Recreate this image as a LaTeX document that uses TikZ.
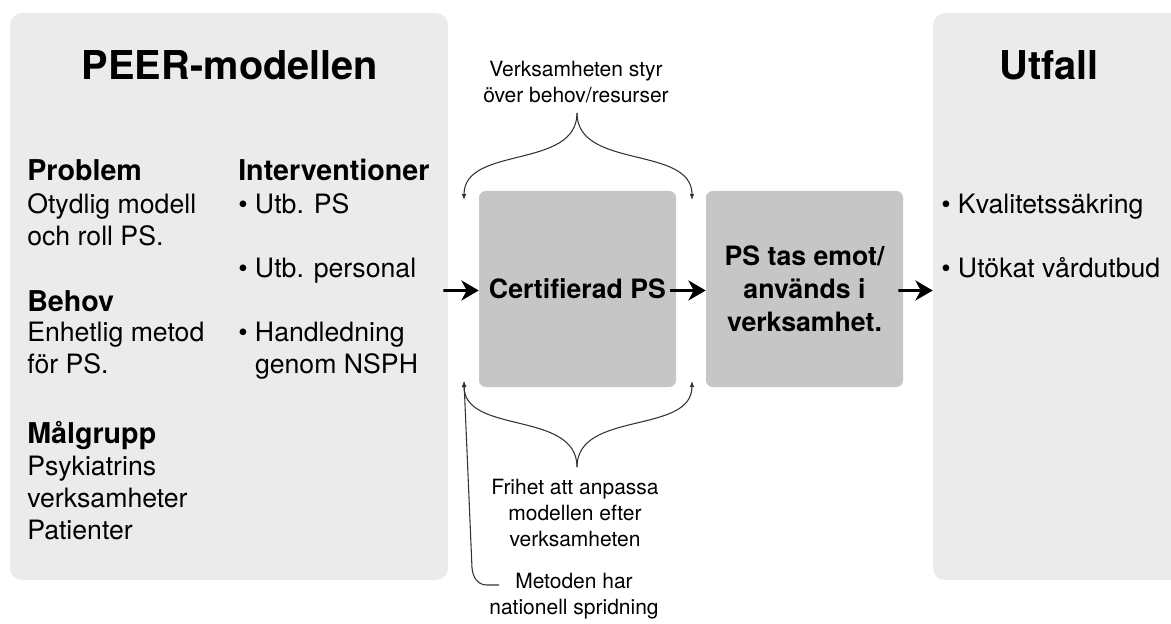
\documentclass[tikz,border=0pt]{standalone}
\usepackage{fontspec}
\setmainfont{TeX Gyre Heros}
\usetikzlibrary{arrows.meta}

\definecolor{panelgray}{RGB}{235,235,235}
\definecolor{boxgray}{RGB}{198,198,198}
\definecolor{bracegray}{RGB}{51,51,51}

\tikzset{
  panel/.style={fill=panelgray, rounded corners=9pt, inner sep=0pt},
  stagebox/.style={fill=boxgray, rounded corners=5pt, inner sep=0pt, minimum width=147.75pt, minimum height=147pt, align=center, font=\fontsize{20}{24.75}\selectfont\bfseries},
  title/.style={font=\fontsize{29.8}{36}\selectfont\bfseries, inner sep=0pt},
  head/.style={font=\fontsize{21.5}{24}\selectfont\bfseries, inner sep=0pt},
  body/.style={font=\fontsize{20}{24}\selectfont, align=left, inner sep=0pt},
  note/.style={font=\fontsize{15.75}{19.5}\selectfont, align=center, inner sep=0pt},
  flow/.style={line width=2.1pt, -{Stealth[length=13pt,width=15pt,inset=4pt]}},
  bracearrow/.style={draw=bracegray, line width=0.8pt, -{Latex[length=4.5pt,width=3.5pt]}},
}

\begin{document}
\begin{tikzpicture}[x=0.75pt,y=0.75pt,yscale=-1,xscale=1]
\useasboundingbox (0,0) rectangle (1171,624);

%Shape: Rounded Rect, panels
\node[panel, minimum width=328.5pt, minimum height=425.25pt] (peer) at (229,296.5) {};
\node[panel, minimum width=192.75pt, minimum height=425.25pt] (outcome) at (1061.5,296.5) {};

%Shape: Rounded Rect, stages
\node[stagebox] (cert) at (577.5,289) {Certifierad PS};
\node[stagebox] (used) at (804.5,289) {PS tas emot/\\används i\\verksamhet.};

% Text Node
\node[title, anchor=base] (peertitle) at (230,80) {PEER-modellen};
% Text Node
\node[title, anchor=base] (outtitle) at (1049,80) {Utfall};

% Text Node (multi-line nodes sit on their last baseline)
\node[head, anchor=base west] (problem) at (27,181) {Problem};
\node[body, anchor=base west] (problemtxt) at (27,245) {Otydlig modell\\och roll PS.};
% Text Node
\node[head, anchor=base west] (need) at (27,311) {Behov};
\node[body, anchor=base west] (needtxt) at (27,373) {Enhetlig metod\\för PS.};
% Text Node
\node[head, anchor=base west] (target) at (27,443) {Målgrupp};
\node[body, anchor=base west] (targettxt) at (27,539) {Psykiatrins\\verksamheter\\Patienter};
% Text Node
\node[head, anchor=base west] (interv) at (238,181) {Interventioner};
\node[body, anchor=base west] (intervtxt) at (238,373) {• Utb. PS\\[24pt]• Utb. personal\\[24pt]• Handledning\\\phantom{• }genom NSPH};
% Text Node
\node[body, anchor=base west] (outlist) at (941,277) {• Kvalitetssäkring\\[24pt]• Utökat vårdutbud};

% Text Node
\node[note, anchor=base] (steer) at (576,103) {Verksamheten styr\\över behov/resurser};
\node[note, anchor=base] (freedom) at (575,546) {Frihet att anpassa\\modellen efter\\verksamheten};
\node[note, anchor=base] (spread) at (574,614) {Metoden har\\nationell spridning};

%Straight Lines
\draw[flow] ([xshift=-3.75pt,yshift=-4.5pt]peer.east) -- ([yshift=1.1pt]cert.west);
\draw[flow] ([xshift=-4.5pt,yshift=1.1pt]cert.east) -- ([yshift=1.1pt]used.west);
\draw[flow] ([xshift=-3.75pt,yshift=1.1pt]used.east) -- ([yshift=-4.5pt]outcome.west);

%Curve Lines, braces
\coordinate (steertip) at (577,113);
\coordinate (topleft) at (464,200);
\coordinate (topright) at (692,200);
\draw[bracearrow] (steertip) .. controls (577,170) and (464,145) .. (topleft);
\draw[bracearrow] (steertip) .. controls (577,170) and (692,145) .. (topright);

\coordinate (freetip) at (577,467);
\coordinate (botleft) at (464,381);
\coordinate (botright) at (692,381);
\coordinate (hookend) at (499,585);
\draw[bracearrow] (freetip) .. controls (577,410) and (464,435) .. (botleft);
\draw[bracearrow] (freetip) .. controls (577,410) and (692,435) .. (botright);
\draw[bracearrow] (hookend) -- (487,585) .. controls (478,585) and (473,578) .. (472,568) -- (botleft);

\end{tikzpicture}
\end{document}
